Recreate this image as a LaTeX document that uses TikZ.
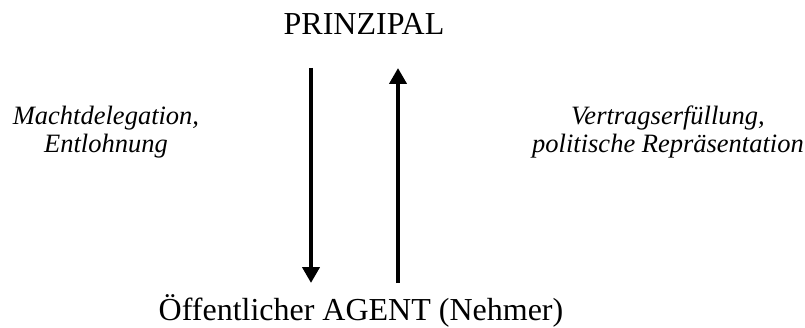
\documentclass[tikz,border=0pt]{standalone}
\usepackage{fontspec}
\setmainfont{Liberation Serif}
\usepackage{tikz}
\usetikzlibrary{arrows.meta}
\tikzstyle{role}=[inner sep=0pt,anchor=base,font=\fontsize{32}{34}\selectfont]
\tikzstyle{flow}=[inner sep=0pt,align=center,font=\fontsize{26.5}{28}\selectfont\itshape]
\tikzstyle{pfeil}=[line width=4pt,-{Triangle[length=16pt,width=17pt]}]

\begin{document}
\begin{tikzpicture}[x=1pt,y=1pt]
        \useasboundingbox (0,0) rectangle (805,327);
        \node at (364,292) [role] (P) {PRINZIPAL};
        \node at (361,7) [role] (A) {Öffentlicher AGENT (Nehmer)};
        \node at (106,175) [flow,anchor=base] (L) {Machtdelegation,\\Entlohnung};
        \node at (668,175) [flow,anchor=base] (R) {Vertragserfüllung,\\politische Repräsentation};
        \coordinate (L1) at (311,259);
        \coordinate (L2) at (311,44);
        \coordinate (R1) at (398,44);
        \coordinate (R2) at (398,259);
        \draw [pfeil] (L1) to (L2);
        \draw [pfeil] (R1) to (R2);
      \end{tikzpicture}
\end{document}
